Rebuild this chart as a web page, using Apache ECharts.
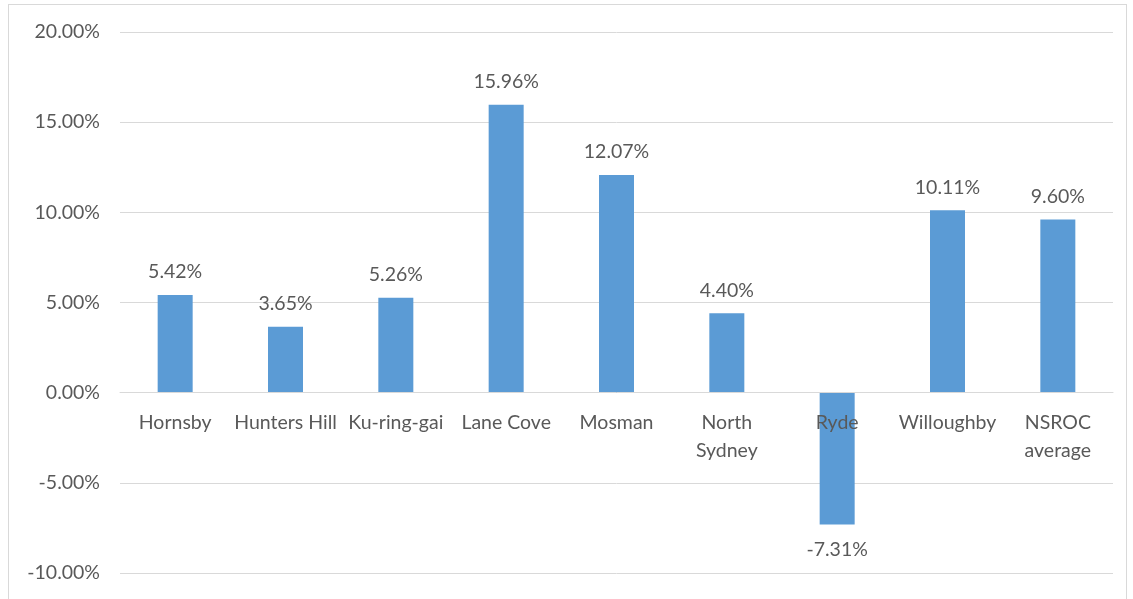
<!DOCTYPE html>
<html><head><meta charset="utf-8">
<script src="https://cdn.jsdelivr.net/npm/echarts@6/dist/echarts.min.js"></script>
<style>
html,body{margin:0;padding:0;background:#fff;}
#frame{position:absolute;left:8px;top:4px;width:1119px;height:600px;border:1px solid #d9d9d9;border-bottom:none;box-sizing:border-box;}
#c{position:absolute;left:0;top:0;width:1133px;height:599px;}
</style></head>
<body>
<div id="frame"></div>
<div id="c"></div>
<script>
const categories = ['Hornsby','Hunters Hill','Ku-ring-gai','Lane Cove','Mosman','North\nSydney','Ryde','Willoughby','NSROC\naverage'];
const values = [5.42, 3.65, 5.26, 15.96, 12.07, 4.40, -7.31, 10.11, 9.60];
const yTicks = {min: -10, max: 20, interval: 5};

const chart = echarts.init(document.getElementById('c'));
const font = 'Lato, "Open Sans", sans-serif';
const gridTop = 32, gridBottom = 26, chartH = 599;
const plotH = chartH - gridTop - gridBottom;
// move category axis up to the zero line
const zeroOffset = -plotH * (0 - yTicks.min) / (yTicks.max - yTicks.min);
chart.setOption({
  animation: false,
  grid: {left: 120, right: 20, top: gridTop, bottom: gridBottom, containLabel: false, outerBoundsMode: 'none'},
  xAxis: {
    type: 'category', data: categories, z: 5, offset: zeroOffset,
    axisLine: {onZero: false, lineStyle: {color: '#d9d9d9', width: 1}},
    axisTick: {show: false},
    axisLabel: {color: '#595959', fontSize: 19.5, fontFamily: font, margin: 16, lineHeight: 28, interval: 0}
  },
  yAxis: {
    type: 'value', min: yTicks.min, max: yTicks.max, interval: yTicks.interval,
    axisLine: {show: false}, axisTick: {show: false},
    splitLine: {lineStyle: {color: '#d9d9d9', width: 1}},
    axisLabel: {color: '#595959', fontSize: 19.5, fontFamily: font, margin: 20,
      formatter: v => v.toFixed(2) + '%'}
  },
  series: [{
    type: 'bar', barWidth: 35, z: 2,
    itemStyle: {color: '#5b9bd5'},
    label: {show: true, position: 'top', distance: 13, color: '#595959', fontSize: 19.5, fontFamily: font,
      formatter: p => p.value.toFixed(2) + '%'},
    data: values.map(v => v < 0 ? {value: v, label: {position: 'bottom', distance: 15}} : v)
  }]
});
</script>
</body></html>
